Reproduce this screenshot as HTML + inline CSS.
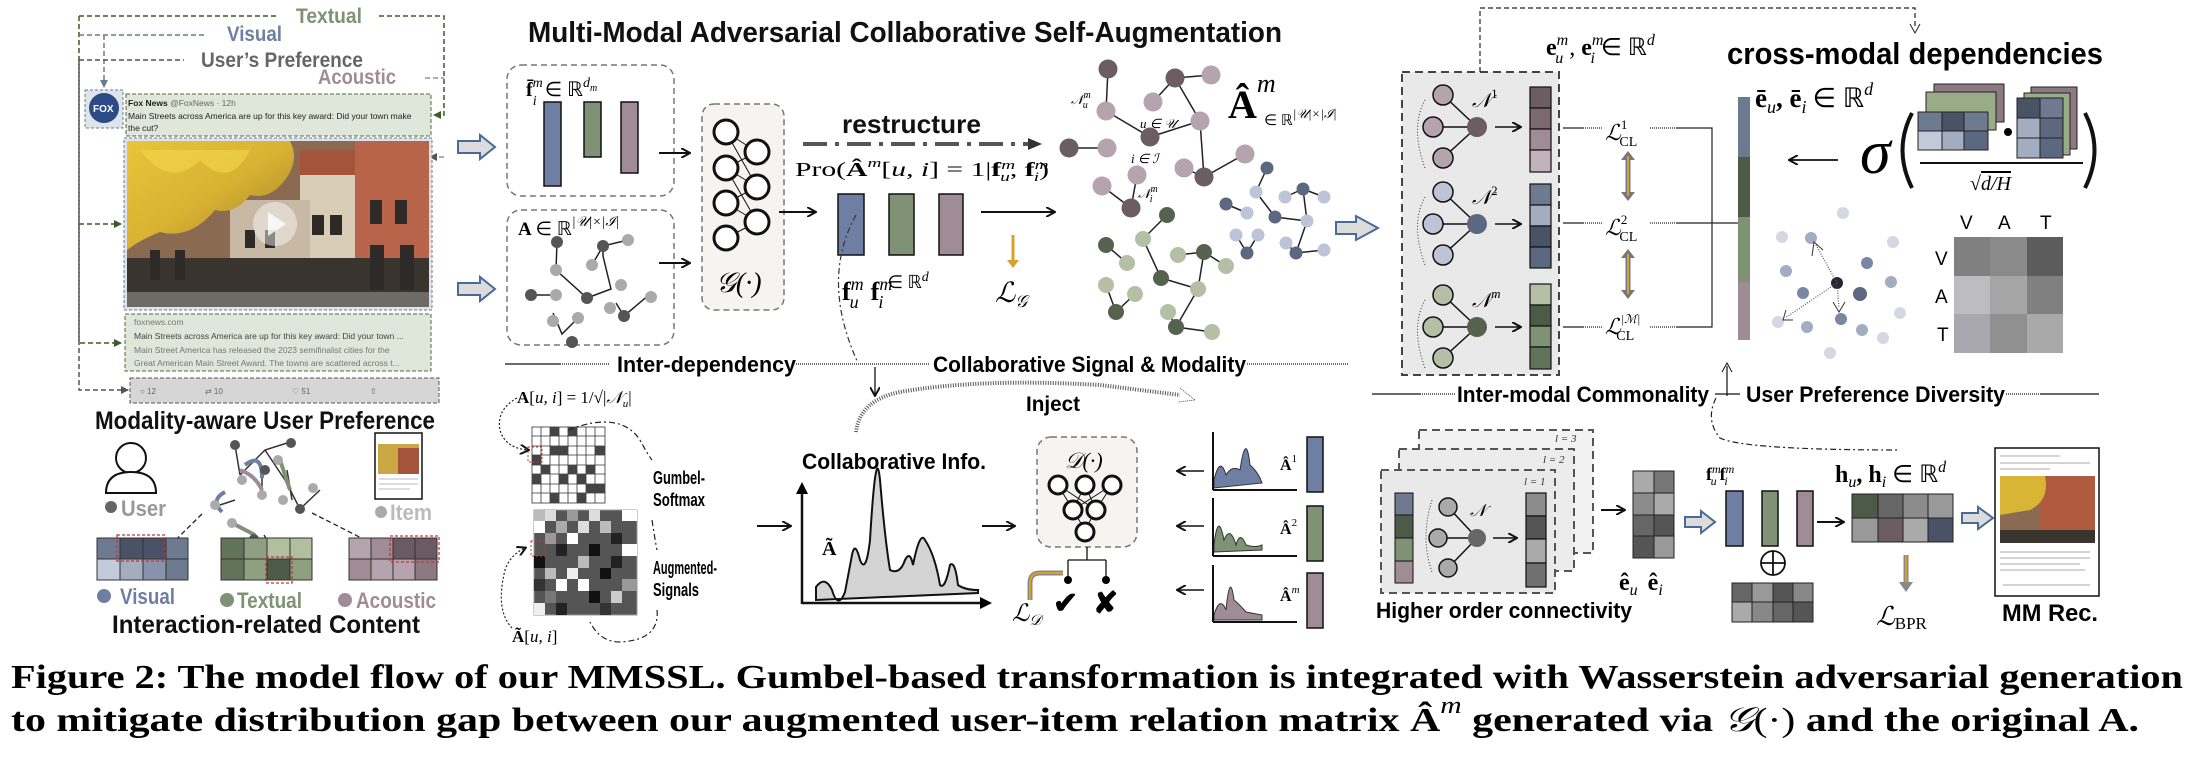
<!DOCTYPE html>
<html><head><meta charset="utf-8"><style>
html,body{margin:0;padding:0;background:#fff;}
svg{display:block;}
.sb{font-family:"Liberation Sans",sans-serif;font-weight:bold;}
.s{font-family:"Liberation Sans",sans-serif;}
.m{font-family:"Liberation Serif",serif;}
.mi{font-family:"Liberation Serif",serif;font-style:italic;}
.mb{font-family:"Liberation Serif",serif;font-weight:bold;}
</style></head><body>
<svg width="2192" height="768" viewBox="0 0 2192 768" xmlns="http://www.w3.org/2000/svg">
<defs>
<marker id="ah" markerWidth="10" markerHeight="10" refX="8" refY="5" orient="auto" markerUnits="userSpaceOnUse"><path d="M0,0 L9,5 L0,10" fill="none" stroke="#111" stroke-width="2"/></marker>
<marker id="ahs" markerWidth="8" markerHeight="8" refX="7" refY="4" orient="auto" markerUnits="userSpaceOnUse"><path d="M0,0 L8,4 L0,8 z" fill="#3d5a2c"/></marker>
<marker id="ahg" markerWidth="8" markerHeight="8" refX="7" refY="4" orient="auto" markerUnits="userSpaceOnUse"><path d="M0,0 L8,4 L0,8 z" fill="#555"/></marker>
<marker id="ahb" markerWidth="8" markerHeight="8" refX="7" refY="4" orient="auto" markerUnits="userSpaceOnUse"><path d="M0,0 L8,4 L0,8 z" fill="#6a7898"/></marker>
<linearGradient id="tree" x1="0" y1="0" x2="1" y2="1"><stop offset="0" stop-color="#e8c53a"/><stop offset="0.5" stop-color="#d9b232"/><stop offset="1" stop-color="#9a7d2a"/></linearGradient>
</defs>

<!-- ============ LEFT PANEL ============ -->
<g font-size="21" class="sb">
<text x="296" y="23" fill="#7f9275" textLength="66" lengthAdjust="spacingAndGlyphs">Textual</text>
<text x="227" y="41" fill="#6e7fa3" textLength="55" lengthAdjust="spacingAndGlyphs">Visual</text>
<text x="201" y="67" fill="#666" textLength="162" lengthAdjust="spacingAndGlyphs">User’s Preference</text>
<text x="318" y="84" fill="#a08c94" textLength="78" lengthAdjust="spacingAndGlyphs">Acoustic</text>
</g>
<g fill="none" stroke-width="1.5" stroke-dasharray="5,3">
<path d="M79,16 H279 M379,16 H444 V115 H434" stroke="#3d5a2c" marker-end="url(#ahs)"/>
<path d="M79,16 V343 H121" stroke="#3d5a2c" marker-end="url(#ahs)"/>
<path d="M79,224 H121" stroke="#3d5a2c" marker-end="url(#ahs)"/>
<path d="M79,35 H207 M104,35 V87" stroke="#6a7898" marker-end="url(#ahb)"/>
<path d="M79,60 H184 M79,60 V390 H128" stroke="#555" marker-end="url(#ahg)"/>
<path d="M425,78 H444 M444,157 H430" stroke="#a08c94" marker-end="url(#ahg)"/>
</g>
<rect x="85" y="90" width="38" height="38" fill="#dfe3ea" stroke="#6a7898" stroke-dasharray="3,2"/>
<circle cx="104" cy="108" r="15" fill="#2c4a86"/><text x="93" y="112" font-size="10" fill="#fff" class="sb">FOX</text>
<rect x="126" y="94" width="305" height="42" fill="#dfe6da" stroke="#4f6b3f" stroke-dasharray="4,2"/>
<text x="128" y="106" font-size="8.5" class="s" fill="#222"><tspan font-weight="bold">Fox News</tspan> <tspan fill="#666">@FoxNews · 12h</tspan></text>
<text x="128" y="119" font-size="8.5" class="s" fill="#222">Main Streets across America are up for this key award: Did your town make</text>
<text x="128" y="131" font-size="8.5" class="s" fill="#222">the cut?</text>
<rect x="124" y="138" width="308" height="172" fill="#dfe3ea" stroke="#6a7898" stroke-dasharray="3,2"/>
<rect x="127" y="141" width="302" height="166" fill="#8a6a50"/>
<rect x="300" y="150" width="129" height="157" fill="#a4543a"/>
<rect x="355" y="141" width="74" height="166" fill="#b8644a"/>
<rect x="300" y="175" width="55" height="132" fill="#d9cdb8"/>
<rect x="230" y="200" width="80" height="107" fill="#c8b9a4"/>
<path d="M127,141 H290 Q300,160 285,180 Q270,200 250,195 Q235,215 215,210 Q190,240 160,232 Q140,240 127,250 Z" fill="url(#tree)"/>
<path d="M140,150 Q170,190 200,160 Q230,190 250,150 Z" fill="#f0d34a" opacity="0.7"/>
<rect x="127" y="258" width="302" height="49" fill="#3a342e"/>
<rect x="127" y="292" width="302" height="15" fill="#6e6a66"/>
<g fill="#2d2a28"><rect x="312" y="215" width="12" height="20"/><rect x="330" y="215" width="12" height="20"/><rect x="370" y="200" width="12" height="24"/><rect x="395" y="200" width="12" height="24"/><rect x="370" y="245" width="14" height="45"/><rect x="400" y="245" width="14" height="45"/><rect x="245" y="230" width="10" height="18"/><rect x="265" y="230" width="10" height="18"/><rect x="150" y="250" width="10" height="30"/><rect x="175" y="250" width="10" height="30"/></g>
<circle cx="275" cy="224" r="22" fill="#fff" opacity="0.45"/><path d="M268,212 L286,224 L268,236 Z" fill="#fff" opacity="0.8"/>
<rect x="125" y="314" width="306" height="57" fill="#dfe6da" stroke="#4f6b3f" stroke-dasharray="4,2"/>
<g font-size="8.5" class="s" fill="#444"><text x="134" y="325" fill="#777">foxnews.com</text><text x="134" y="339">Main Streets across America are up for this key award: Did your town ...</text><text x="134" y="353" fill="#777">Main Street America has released the 2023 semifinalist cities for the</text><text x="134" y="366" fill="#777">Great American Main Street Award. The towns are scattered across t...</text></g>
<rect x="130" y="378" width="309" height="25" fill="#d6d6d6" stroke="#555" stroke-dasharray="4,2"/>
<g font-size="8" class="s" fill="#666"><text x="140" y="394">○ 12</text><text x="205" y="394">⇄ 10</text><text x="292" y="394">♡ 51</text><text x="370" y="394">⇧</text></g>
<text x="95" y="429" font-size="25" class="sb" fill="#111" textLength="340" lengthAdjust="spacingAndGlyphs">Modality-aware User Preference</text>
<circle cx="131" cy="458" r="15" fill="#fff" stroke="#111" stroke-width="2"/>
<path d="M106,493 Q106,472 131,472 Q156,472 156,493 Z" fill="#fff" stroke="#111" stroke-width="2"/>
<circle cx="111" cy="507" r="6" fill="#666"/><text x="121" y="516" font-size="22" class="sb" fill="#999" textLength="45" lengthAdjust="spacingAndGlyphs">User</text>
<g stroke="#333" stroke-width="1.5" fill="none">
<path d="M235,445 L240,475 M240,475 L265,450 L287,443 M265,450 L285,480 M287,470 L292,500 M262,495 L262,475 M285,480 L300,509 L320,490 M232,523 L255,535 M235,500 L220,505"/>
<path d="M245,465 Q262,452 262,478" stroke="#6e7fa3" stroke-width="4"/>
<path d="M240,470 Q255,475 262,490" stroke="#a08c94" stroke-width="4"/>
<path d="M225,492 Q210,500 222,512" stroke="#6e7fa3" stroke-width="4"/>
<path d="M280,460 L290,490" stroke="#7f9275" stroke-width="4"/>
<path d="M232,523 L255,535" stroke="#7f9275" stroke-width="4"/>
</g>
<g fill="#555"><circle cx="235" cy="445" r="5"/><circle cx="291" cy="443" r="5"/><circle cx="265" cy="470" r="5"/><circle cx="300" cy="509" r="5"/><circle cx="254" cy="539" r="5"/></g>
<g fill="#aaa"><circle cx="278" cy="460" r="5"/><circle cx="262" cy="495" r="5"/><circle cx="232" cy="523" r="5"/><circle cx="215" cy="505" r="5"/><circle cx="313" cy="488" r="5"/><circle cx="283" cy="500" r="5"/><circle cx="242" cy="480" r="5"/></g>
<g stroke="#222" stroke-width="1.3" stroke-dasharray="5,3" fill="none"><path d="M202,514 L145,570 M312,513 L395,555 M264,535 L283,565"/></g>
<rect x="375" y="433" width="47" height="66" fill="#fff" stroke="#111" stroke-width="1.5"/>
<rect x="378" y="444" width="41" height="30" fill="#c9a845"/><rect x="398" y="448" width="21" height="26" fill="#a4543a"/>
<g stroke="#bbb" stroke-width="1"><path d="M379,479 H418 M379,484 H418 M379,489 H410"/></g>
<circle cx="381" cy="512" r="6" fill="#aaa"/><text x="390" y="520" font-size="22" class="sb" fill="#bbb" textLength="42" lengthAdjust="spacingAndGlyphs">Item</text>
<g stroke="#333" stroke-width="1">
<rect x="97" y="538" width="23" height="21" fill="#6e7a90"/><rect x="120" y="538" width="23" height="21" fill="#4a5366"/><rect x="143" y="538" width="23" height="21" fill="#4a5366"/><rect x="166" y="538" width="22" height="21" fill="#6e7a90"/>
<rect x="97" y="559" width="23" height="21" fill="#c3cbdb"/><rect x="120" y="559" width="23" height="21" fill="#a4adbf"/><rect x="143" y="559" width="23" height="21" fill="#8793aa"/><rect x="166" y="559" width="22" height="21" fill="#6e7a90"/>
<rect x="221" y="538" width="23" height="21" fill="#62735a"/><rect x="244" y="538" width="23" height="21" fill="#8ea07f"/><rect x="267" y="538" width="23" height="21" fill="#b2bf9f"/><rect x="290" y="538" width="22" height="21" fill="#b2bf9f"/>
<rect x="221" y="559" width="23" height="21" fill="#62735a"/><rect x="244" y="559" width="23" height="21" fill="#8ea07f"/><rect x="267" y="559" width="23" height="21" fill="#4e5a48"/><rect x="290" y="559" width="22" height="21" fill="#8ea07f"/>
<rect x="349" y="538" width="22" height="21" fill="#b5a3ad"/><rect x="371" y="538" width="22" height="21" fill="#a08c94"/><rect x="393" y="538" width="22" height="21" fill="#6b5a62"/><rect x="415" y="538" width="22" height="21" fill="#6b5a62"/>
<rect x="349" y="559" width="22" height="21" fill="#a08c94"/><rect x="371" y="559" width="22" height="21" fill="#b5a3ad"/><rect x="393" y="559" width="22" height="21" fill="#b5a3ad"/><rect x="415" y="559" width="22" height="21" fill="#8d7981"/>
</g>
<g fill="none" stroke="#c33" stroke-width="1.3" stroke-dasharray="3,2"><rect x="117" y="535" width="48" height="26"/><rect x="266" y="557" width="26" height="26"/><rect x="390" y="536" width="49" height="26"/></g>
<circle cx="104" cy="596" r="7" fill="#6e7fa3"/><text x="120" y="604" font-size="22" class="sb" fill="#6e7fa3" textLength="55" lengthAdjust="spacingAndGlyphs">Visual</text>
<circle cx="227" cy="600" r="7" fill="#7f9275"/><text x="237" y="608" font-size="22" class="sb" fill="#7f9275" textLength="65" lengthAdjust="spacingAndGlyphs">Textual</text>
<circle cx="345" cy="600" r="7" fill="#a08c94"/><text x="356" y="608" font-size="22" class="sb" fill="#a08c94" textLength="80" lengthAdjust="spacingAndGlyphs">Acoustic</text>
<text x="112" y="633" font-size="25" class="sb" fill="#111" textLength="308" lengthAdjust="spacingAndGlyphs">Interaction-related Content</text>

<g fill="#dcdcdc" stroke="#4a6a98" stroke-width="2"><path d="M458,141 H480 V135 L495,147 L480,159 V153 H458 Z"/><path d="M458,283 H480 V277 L495,289 L480,301 V295 H458 Z"/></g>

<!-- ============ MIDDLE ============ -->
<text x="528" y="42" font-size="29" class="sb" fill="#111" textLength="754" lengthAdjust="spacingAndGlyphs">Multi-Modal Adversarial Collaborative Self-Augmentation</text>
<rect x="507" y="65" width="167" height="131" rx="14" fill="#fff" stroke="#777" stroke-width="1.5" stroke-dasharray="6,4"/>
<text x="526" y="96" font-size="20" class="mb">f̄<tspan class="mi" font-size="14" font-weight="normal" dy="-9">m</tspan><tspan class="mi" font-size="14" font-weight="normal" dx="-10" dy="18">i</tspan><tspan class="m" font-weight="normal" dy="-9" dx="8">∈ ℝ</tspan><tspan class="mi" font-size="14" font-weight="normal" dy="-9">d</tspan><tspan class="mi" font-size="10" font-weight="normal" dy="4">m</tspan></text>
<g stroke="#111" stroke-width="1.5"><rect x="544" y="102" width="17" height="84" fill="#6e7fa3"/><rect x="584" y="102" width="17" height="55" fill="#7f9275"/><rect x="621" y="102" width="17" height="71" fill="#a08c94"/></g>
<rect x="507" y="210" width="167" height="135" rx="14" fill="#fff" stroke="#777" stroke-width="1.5" stroke-dasharray="6,4"/>
<text x="518" y="235" font-size="19" class="mb">A <tspan class="m" font-weight="normal">∈ ℝ</tspan><tspan class="mi" font-weight="normal" font-size="14" dy="-9">|𝒰|×|ℐ|</tspan></text>
<g stroke="#222" stroke-width="1.5" fill="none"><path d="M557,242 L556,270 L587,298 L611,289 L603,256 L603,246 M592,265 L603,246 L628,240 M531,295 L556,295 M616,303 L624,316 L650,294 M553,313 L562,334 L578,318"/></g>
<g fill="#555"><circle cx="557" cy="242" r="6"/><circle cx="603" cy="246" r="6"/><circle cx="587" cy="298" r="6"/><circle cx="531" cy="295" r="6"/><circle cx="624" cy="316" r="6"/><circle cx="572" cy="342" r="6"/></g>
<g fill="#aaa"><circle cx="628" cy="240" r="6"/><circle cx="556" cy="270" r="6"/><circle cx="592" cy="265" r="6"/><circle cx="621" cy="285" r="6"/><circle cx="556" cy="295" r="6"/><circle cx="610" cy="308" r="6"/><circle cx="651" cy="297" r="6"/><circle cx="578" cy="318" r="6"/><circle cx="553" cy="321" r="6"/></g>
<g stroke="#111" stroke-width="2" fill="none"><path d="M659,153 H689" marker-end="url(#ah)"/><path d="M659,263 H689" marker-end="url(#ah)"/></g>
<rect x="702" y="104" width="82" height="206" rx="12" fill="#f6f4f1" stroke="#777" stroke-width="1.5" stroke-dasharray="6,4"/>
<g stroke="#111" stroke-width="1"><path d="M726,132 L757,152 M726,132 L757,187 M726,168 L757,152 M726,168 L757,187 M726,168 L757,222 M726,203 L757,187 M726,203 L757,222 M726,238 L757,222"/></g>
<g fill="#fff" stroke="#111" stroke-width="3"><circle cx="726" cy="132" r="12"/><circle cx="726" cy="168" r="12"/><circle cx="726" cy="203" r="12"/><circle cx="726" cy="238" r="12"/><circle cx="757" cy="152" r="12"/><circle cx="757" cy="187" r="12"/><circle cx="757" cy="222" r="12"/></g>
<text x="716" y="292" font-size="28" class="mi">𝒢(·)</text>
<path d="M779,212 H815" stroke="#111" stroke-width="2" marker-end="url(#ah)"/>
<text x="842" y="133" font-size="26" class="sb" fill="#111" textLength="139" lengthAdjust="spacingAndGlyphs">restructure</text>
<path d="M803,144 H1035" stroke="#555" stroke-width="4" stroke-dasharray="24,8,4,8"/><path d="M1028,138 L1042,144 L1028,150 Z" fill="#333"/>
<text x="795" y="176" font-size="20" class="m" textLength="254" lengthAdjust="spacingAndGlyphs">Pro(<tspan class="mb">Â</tspan><tspan class="mi" font-size="13" dy="-9">m</tspan><tspan dy="9">[</tspan><tspan class="mi">u, i</tspan>] = 1|<tspan class="mb">f</tspan><tspan class="mi" font-size="13" dy="-7">m</tspan><tspan class="mi" font-size="13" dx="-10" dy="12">u</tspan><tspan dy="-5">, </tspan><tspan class="mb">f</tspan><tspan class="mi" font-size="13" dy="-7">m</tspan><tspan class="mi" font-size="13" dx="-10" dy="12">i</tspan><tspan dy="-5">)</tspan></text>
<g stroke="#111" stroke-width="1.5"><rect x="838" y="194" width="26" height="61" fill="#6e7fa3"/><rect x="889" y="194" width="25" height="61" fill="#7f9275"/><rect x="939" y="194" width="24" height="61" fill="#a08c94"/></g>
<text x="842" y="300" font-size="26" class="mb">f<tspan class="mi" font-weight="normal" font-size="18" dy="-10">m</tspan><tspan class="mi" font-weight="normal" font-size="18" dx="-14" dy="18">u</tspan><tspan dx="12" dy="-8">f</tspan><tspan class="mi" font-weight="normal" font-size="18" dy="-10">m</tspan><tspan class="mi" font-weight="normal" font-size="18" dx="-14" dy="18">i</tspan><tspan class="m" font-weight="normal" font-size="18" dx="4" dy="-20">∈ ℝ</tspan><tspan class="mi" font-weight="normal" font-size="14" dy="-7">d</tspan></text>
<path d="M1013,235 V263" stroke="#d9a030" stroke-width="3"/><path d="M1007,260 L1013,268 L1019,260" fill="#d9a030"/>
<text x="995" y="302" font-size="28" class="mi">ℒ<tspan font-size="17" dy="5">𝒢</tspan></text>
<path d="M981,212 H1054" stroke="#111" stroke-width="2" marker-end="url(#ah)"/>
<path d="M856,215 Q820,280 858,363" fill="none" stroke="#333" stroke-width="1.2" stroke-dasharray="6,3,2,3"/>

<g stroke="#222" stroke-width="1.5" fill="none">
<path d="M1108,69 L1106,111 L1150,137 L1200,121 M1175,78 L1153,102 M1175,78 L1211,75 M1175,78 L1200,121 L1204,177 L1245,154 M1184,168 L1204,177 M1069,148 L1107,148 M1137,175 L1131,208 M1102,186 L1131,208"/>
<path d="M1267,168 L1256,192 L1275,217 L1307,221 M1226,204 L1247,213 M1303,189 L1285,197 M1303,189 L1324,197 M1303,189 L1307,221 L1296,253 L1324,250 M1286,243 L1296,253 M1236,235 L1247,253 M1258,235 L1247,253"/>
<path d="M1167,215 L1143,239 L1161,278 L1198,289 M1106,245 L1127,263 M1178,255 L1204,252 L1226,266 M1204,252 L1198,289 L1176,327 L1212,332 M1168,312 L1176,327 M1106,285 L1116,312 L1135,294"/>
</g>
<g fill="#6b5d62"><circle cx="1108" cy="69" r="9.5"/><circle cx="1175" cy="78" r="9.5"/><circle cx="1150" cy="137" r="9.5"/><circle cx="1069" cy="148" r="9.5"/><circle cx="1204" cy="177" r="9.5"/><circle cx="1131" cy="208" r="9.5"/></g>
<g fill="#b5a3ad"><circle cx="1211" cy="75" r="9.5"/><circle cx="1106" cy="111" r="9.5"/><circle cx="1153" cy="102" r="9.5"/><circle cx="1200" cy="121" r="9.5"/><circle cx="1107" cy="148" r="9.5"/><circle cx="1184" cy="168" r="9.5"/><circle cx="1245" cy="154" r="9.5"/><circle cx="1137" cy="175" r="9.5"/><circle cx="1102" cy="186" r="9.5"/></g>
<g fill="#5c6880"><circle cx="1267" cy="168" r="6.5"/><circle cx="1226" cy="204" r="6.5"/><circle cx="1275" cy="217" r="6.5"/><circle cx="1303" cy="189" r="6.5"/><circle cx="1247" cy="253" r="6.5"/><circle cx="1296" cy="253" r="6.5"/></g>
<g fill="#bcc4d6"><circle cx="1256" cy="192" r="6.5"/><circle cx="1247" cy="213" r="6.5"/><circle cx="1285" cy="197" r="6.5"/><circle cx="1324" cy="197" r="6.5"/><circle cx="1307" cy="221" r="6.5"/><circle cx="1236" cy="235" r="6.5"/><circle cx="1258" cy="235" r="6.5"/><circle cx="1286" cy="243" r="6.5"/><circle cx="1324" cy="250" r="6.5"/></g>
<g fill="#56624f"><circle cx="1167" cy="215" r="8"/><circle cx="1106" cy="245" r="8"/><circle cx="1204" cy="252" r="8"/><circle cx="1161" cy="278" r="8"/><circle cx="1116" cy="312" r="8"/><circle cx="1176" cy="327" r="8"/></g>
<g fill="#b5bfa6"><circle cx="1143" cy="239" r="8"/><circle cx="1127" cy="263" r="8"/><circle cx="1178" cy="255" r="8"/><circle cx="1226" cy="266" r="8"/><circle cx="1106" cy="285" r="8"/><circle cx="1135" cy="294" r="8"/><circle cx="1198" cy="289" r="8"/><circle cx="1168" cy="312" r="8"/><circle cx="1212" cy="332" r="8"/></g>
<g font-size="13" class="mi"><text x="1071" y="104">𝒩<tspan font-size="10" dy="-6">m</tspan><tspan font-size="10" dx="-8" dy="10">u</tspan></text><text x="1140" y="128">u ∈ 𝒰</text><text x="1131" y="163">i ∈ ℐ</text><text x="1138" y="198">𝒩<tspan font-size="10" dy="-6">m</tspan><tspan font-size="10" dx="-8" dy="10">i</tspan></text></g>
<text x="1228" y="118" font-size="40" class="mb">Â<tspan class="mi" font-weight="normal" font-size="26" dy="-26">m</tspan></text>
<text x="1264" y="125" font-size="15" class="m">∈ ℝ<tspan class="mi" font-size="13" dy="-7">|𝒰|×|ℐ|</tspan></text>

<g stroke="#111" stroke-width="1.2"><path d="M505,364 H560"/><path d="M560,364 H610 M796,364 H930 M1247,364 H1349" stroke-dasharray="1,1"/></g>
<text x="617" y="372" font-size="22" class="sb" textLength="179" lengthAdjust="spacingAndGlyphs">Inter-dependency</text>
<text x="933" y="372" font-size="22" class="sb" textLength="313" lengthAdjust="spacingAndGlyphs">Collaborative Signal &amp; Modality</text>
<path d="M875,367 V395" stroke="#111" stroke-width="1.3" marker-end="url(#ah)"/>

<text x="517" y="403" font-size="17" class="m"><tspan class="mb">A</tspan>[<tspan class="mi">u, i</tspan>] = 1/√|<tspan class="mi">𝒩<tspan font-size="11" dy="4">u</tspan></tspan><tspan dy="-4">|</tspan></text>
<path d="M517,398 Q496,410 500,430 Q505,448 528,450" fill="none" stroke="#222" stroke-width="1.2" stroke-dasharray="2,2" marker-end="url(#ah)"/>
<g stroke="#333" stroke-width="0.8">
<rect x="532" y="427" width="73" height="76" fill="#fff"/>
<path d="M541,427 V503 M550,427 V503 M559,427 V503 M568,427 V503 M577,427 V503 M586,427 V503 M595,427 V503 M532,436 H605 M532,446 H605 M532,455 H605 M532,465 H605 M532,474 H605 M532,484 H605 M532,493 H605"/>
</g>
<g fill="#444"><rect x="550" y="427" width="9" height="9"/><rect x="568" y="427" width="9" height="9"/><rect x="550" y="446" width="9" height="9"/><rect x="559" y="446" width="9" height="9"/><rect x="595" y="446" width="10" height="9"/><rect x="532" y="455" width="9" height="10"/><rect x="541" y="465" width="9" height="9"/><rect x="568" y="465" width="9" height="9"/><rect x="532" y="474" width="9" height="10"/><rect x="559" y="474" width="9" height="10"/><rect x="577" y="474" width="9" height="10"/><rect x="586" y="484" width="9" height="9"/><rect x="595" y="484" width="10" height="9"/><rect x="550" y="493" width="9" height="10"/><rect x="577" y="493" width="9" height="10"/><rect x="586" y="465" width="9" height="9"/></g>
<rect x="528" y="447" width="14" height="15" fill="none" stroke="#c33" stroke-dasharray="2,2"/>
<g>
<rect x="534" y="510" width="103" height="105" fill="#555" stroke="#999"/>
<g fill="#ddd"><rect x="534" y="510" width="11" height="11" fill="#bbb"/><rect x="545" y="510" width="11" height="11"/><rect x="567" y="510" width="11" height="11" fill="#999"/><rect x="589" y="510" width="11" height="11"/><rect x="622" y="510" width="15" height="11" fill="#fff"/><rect x="534" y="521" width="11" height="12" fill="#fff"/><rect x="556" y="521" width="11" height="12" fill="#aaa"/><rect x="578" y="521" width="11" height="12"/><rect x="600" y="521" width="11" height="12" fill="#bbb"/><rect x="545" y="533" width="11" height="11" fill="#999"/><rect x="567" y="533" width="11" height="11" fill="#fff"/><rect x="611" y="533" width="11" height="11" fill="#222"/><rect x="556" y="544" width="11" height="12" fill="#222"/><rect x="589" y="544" width="11" height="12" fill="#111"/><rect x="622" y="544" width="15" height="12" fill="#fff"/><rect x="534" y="556" width="11" height="12" fill="#111"/><rect x="578" y="556" width="11" height="12" fill="#bbb"/><rect x="611" y="556" width="11" height="12" fill="#222"/><rect x="545" y="568" width="11" height="11" fill="#bbb"/><rect x="567" y="568" width="11" height="11" fill="#eee"/><rect x="600" y="568" width="11" height="11" fill="#111"/><rect x="534" y="579" width="11" height="12" fill="#333"/><rect x="556" y="579" width="11" height="12" fill="#fff"/><rect x="578" y="579" width="11" height="12" fill="#fff"/><rect x="622" y="579" width="15" height="12" fill="#999"/><rect x="545" y="591" width="11" height="12" fill="#777"/><rect x="589" y="591" width="11" height="12" fill="#111"/><rect x="611" y="591" width="11" height="12" fill="#ccc"/><rect x="534" y="603" width="11" height="12" fill="#eee"/><rect x="556" y="603" width="11" height="12" fill="#222"/><rect x="600" y="603" width="11" height="12" fill="#333"/></g>
</g>
<rect x="531" y="541" width="14" height="15" fill="none" stroke="#c33" stroke-dasharray="2,2"/>
<path d="M568,430 Q620,410 640,440 Q648,455 652,460" fill="none" stroke="#222" stroke-width="1.2" stroke-dasharray="6,3,2,3"/>
<path d="M652,520 Q655,540 657,550 M657,610 Q660,640 620,642 Q600,642 590,622" fill="none" stroke="#222" stroke-width="1.2" stroke-dasharray="6,3,2,3"/>
<path d="M512,628 Q495,610 505,570 Q510,555 525,548" fill="none" stroke="#222" stroke-width="1.2" stroke-dasharray="2,2" marker-end="url(#ah)"/>
<g font-size="18" class="sb"><text x="653" y="484" textLength="52" lengthAdjust="spacingAndGlyphs">Gumbel-</text><text x="653" y="506" textLength="52" lengthAdjust="spacingAndGlyphs">Softmax</text><text x="653" y="574" textLength="64" lengthAdjust="spacingAndGlyphs">Augmented-</text><text x="653" y="596" textLength="46" lengthAdjust="spacingAndGlyphs">Signals</text></g>
<text x="512" y="642" font-size="17" class="m"><tspan class="mb">Ã</tspan>[<tspan class="mi">u, i</tspan>]</text>
<path d="M757,526 H790" stroke="#111" stroke-width="2" marker-end="url(#ah)"/>
<text x="802" y="469" font-size="22" class="sb" textLength="184" lengthAdjust="spacingAndGlyphs">Collaborative Info.</text>
<path d="M816,587 Q825,575 832,590 Q838,610 845,592 L852,555 Q855,540 860,560 Q866,575 870,540 Q876,440 880,480 Q885,540 890,570 Q900,575 905,560 Q910,550 913,565 Q920,530 925,540 Q935,555 940,585 Q945,590 950,565 Q955,560 958,585 Q965,590 978,590 L978,593 L816,600 Z" fill="#d4d4d4" stroke="#111" stroke-width="2"/>
<path d="M802,604 V490" stroke="#111" stroke-width="2.5"/><path d="M796,494 L802,482 L808,494 Z"/>
<path d="M802,603 H983" stroke="#111" stroke-width="2.5"/><path d="M980,597 L992,603 L980,609 Z"/>
<text x="822" y="555" font-size="20" class="mb">Ã</text>
<path d="M982,526 H1014" stroke="#111" stroke-width="2" marker-end="url(#ah)"/>
<text x="1026" y="411" font-size="21" class="sb" textLength="54" lengthAdjust="spacingAndGlyphs">Inject</text>
<path d="M856,432 Q860,400 900,392 Q980,378 1100,385 L1180,395" fill="none" stroke="#555" stroke-width="4" stroke-dasharray="1,1.5"/>
<path d="M1180,388 L1195,400 L1178,402" fill="none" stroke="#555" stroke-width="1" stroke-dasharray="1,1"/>
<rect x="1037" y="437" width="100" height="110" rx="14" fill="#f6f4f1" stroke="#777" stroke-width="1.5" stroke-dasharray="6,4"/>
<text x="1065" y="468" font-size="22" class="mi">𝒟(·)</text>
<g stroke="#111" stroke-width="1"><path d="M1058,485 L1073,510 M1058,485 L1096,510 M1085,485 L1073,510 M1085,485 L1096,510 M1112,485 L1073,510 M1112,485 L1096,510 M1073,510 L1085,530 M1096,510 L1085,530"/></g>
<g fill="#fff" stroke="#111" stroke-width="3"><circle cx="1058" cy="485" r="9"/><circle cx="1085" cy="485" r="9"/><circle cx="1112" cy="485" r="9"/><circle cx="1073" cy="510" r="9"/><circle cx="1096" cy="510" r="9"/><circle cx="1085" cy="532" r="9"/></g>
<path d="M1087,547 V560 M1068,560 H1106 M1068,560 V578 M1106,560 V578" stroke="#111" stroke-width="1.3" fill="none"/>
<circle cx="1068" cy="580" r="4"/><circle cx="1106" cy="580" r="4"/>
<path d="M1063,573 H1040 Q1030,573 1030,583 V600" fill="none" stroke="#888" stroke-width="5"/><path d="M1063,573 H1040 Q1030,573 1030,583 V600" fill="none" stroke="#d9a030" stroke-width="2"/>
<text x="1012" y="621" font-size="24" class="mi">ℒ<tspan font-size="15" dy="4">𝒟</tspan></text>
<text x="1053" y="613" font-size="30" class="sb">✔</text><text x="1093" y="613" font-size="30" class="sb">✘</text>
<g stroke="#111" stroke-width="1.5" fill="none">
<path d="M1204,471 H1178" marker-end="url(#ah)"/>
<path d="M1204,526 H1178" marker-end="url(#ah)"/>
<path d="M1204,590 H1178" marker-end="url(#ah)"/>
</g>
<g>
<path d="M1214,480 Q1220,455 1226,475 Q1232,465 1240,470 Q1246,430 1250,465 Q1256,470 1260,478 L1262,483 L1214,488Z" fill="#6e7fa3" stroke="#333"/>
<path d="M1214,545 Q1218,510 1224,540 Q1230,525 1236,545 Q1240,530 1246,545 Q1256,548 1262,545 L1262,550 L1214,552Z" fill="#7f9275" stroke="#333"/>
<path d="M1214,615 Q1220,595 1226,610 Q1230,570 1234,600 Q1240,605 1246,612 L1262,615 L1262,620 L1214,620Z" fill="#a08c94" stroke="#333"/>
<g stroke="#111" stroke-width="2"><path d="M1213,490 V432 M1213,490 H1297 M1213,556 V498 M1213,556 H1297 M1213,622 V565 M1213,622 H1297"/></g>
<g font-size="16" class="mb"><text x="1280" y="470">Â<tspan class="m" font-weight="normal" font-size="11" dy="-8">1</tspan></text><text x="1280" y="534">Â<tspan class="m" font-weight="normal" font-size="11" dy="-8">2</tspan></text><text x="1280" y="601">Â<tspan class="mi" font-weight="normal" font-size="11" dy="-8">m</tspan></text></g>
<g stroke="#111" stroke-width="1.5"><rect x="1307" y="437" width="16" height="55" fill="#6e7fa3"/><rect x="1307" y="506" width="16" height="55" fill="#7f9275"/><rect x="1307" y="573" width="16" height="55" fill="#a08c94"/></g>
</g>

<!-- ============ RIGHT ============ -->
<path d="M1336,222 H1356 V216 L1378,228 L1356,240 V234 H1336 Z" fill="#dcdcdc" stroke="#4a6a98" stroke-width="2"/>
<rect x="1402" y="72" width="157" height="303" fill="#e9e9e9" stroke="#444" stroke-width="2" stroke-dasharray="8,5"/>
<path d="M1480,72 V8 H1915 V28" fill="none" stroke="#222" stroke-width="1.2" stroke-dasharray="5,3"/><path d="M1910,24 L1915,33 L1920,24" fill="none" stroke="#222"/>
<g>
<g stroke="#111" stroke-width="1.5"><path d="M1443,95 L1477,127 M1433,127 L1477,127 M1443,158 L1477,127"/><path d="M1495,127 H1520" marker-end="url(#ah)"/></g>
<path d="M1425,100 Q1410,127 1425,168" fill="none" stroke="#333" stroke-dasharray="1,2"/>
<g stroke="#111" stroke-width="1.5" fill="#b5a3ad"><circle cx="1443" cy="95" r="10"/><circle cx="1433" cy="127" r="10"/><circle cx="1443" cy="158" r="10"/></g><circle cx="1477" cy="127" r="10" fill="#6b5d62"/>
<g stroke="#111" stroke-width="1.2"><rect x="1530" y="87" width="21" height="21" fill="#6b5d62"/><rect x="1530" y="108" width="21" height="21" fill="#7a6a70"/><rect x="1530" y="129" width="21" height="21" fill="#a08c94"/><rect x="1530" y="150" width="21" height="22" fill="#c4b2ba"/></g>
<text x="1472" y="107" font-size="20" class="mi">𝒩<tspan class="m" font-style="normal" font-size="13" dy="-9">1</tspan></text>
<g stroke="#111" stroke-width="1.5"><path d="M1443,192 L1477,224 M1433,224 L1477,224 M1443,255 L1477,224"/><path d="M1495,224 H1520" marker-end="url(#ah)"/></g>
<path d="M1425,197 Q1410,224 1425,265" fill="none" stroke="#333" stroke-dasharray="1,2"/>
<g stroke="#111" stroke-width="1.5" fill="#bcc4d6"><circle cx="1443" cy="192" r="10"/><circle cx="1433" cy="224" r="10"/><circle cx="1443" cy="255" r="10"/></g><circle cx="1477" cy="224" r="10" fill="#5c6880"/>
<g stroke="#111" stroke-width="1.2"><rect x="1530" y="184" width="21" height="21" fill="#6e7a90"/><rect x="1530" y="205" width="21" height="21" fill="#a4adbf"/><rect x="1530" y="226" width="21" height="21" fill="#4a5366"/><rect x="1530" y="247" width="21" height="21" fill="#5c6880"/></g>
<text x="1472" y="204" font-size="20" class="mi">𝒩<tspan class="m" font-style="normal" font-size="13" dy="-9">2</tspan></text>
<g stroke="#111" stroke-width="1.5"><path d="M1443,295 L1477,327 M1433,327 L1477,327 M1443,358 L1477,327"/><path d="M1495,327 H1520" marker-end="url(#ah)"/></g>
<path d="M1425,300 Q1410,327 1425,368" fill="none" stroke="#333" stroke-dasharray="1,2"/>
<g stroke="#111" stroke-width="1.5" fill="#b5bfa6"><circle cx="1443" cy="295" r="10"/><circle cx="1433" cy="327" r="10"/><circle cx="1443" cy="358" r="10"/></g><circle cx="1477" cy="327" r="10" fill="#56624f"/>
<g stroke="#111" stroke-width="1.2"><rect x="1530" y="284" width="21" height="21" fill="#b5bfa6"/><rect x="1530" y="305" width="21" height="21" fill="#4e5a48"/><rect x="1530" y="326" width="21" height="21" fill="#7f9275"/><rect x="1530" y="347" width="21" height="22" fill="#62735a"/></g>
<text x="1472" y="307" font-size="20" class="mi">𝒩<tspan font-size="13" dy="-9">m</tspan></text>
</g>
<text x="1546" y="55" font-size="24" class="mb">e<tspan class="mi" font-weight="normal" font-size="16" dy="-10">m</tspan><tspan class="mi" font-weight="normal" font-size="16" dx="-13" dy="18">u</tspan><tspan class="m" font-weight="normal" dy="-8"> , </tspan>e<tspan class="mi" font-weight="normal" font-size="16" dy="-10">m</tspan><tspan class="mi" font-weight="normal" font-size="16" dx="-13" dy="18">i</tspan><tspan class="m" font-weight="normal" dx="6" dy="-8">∈ ℝ</tspan><tspan class="mi" font-weight="normal" font-size="16" dy="-10">d</tspan></text>
<g stroke="#222" stroke-width="1.2" fill="none"><path d="M1563,128 H1583 M1563,223 H1583 M1563,327 H1583"/><path d="M1583,128 H1603 M1583,223 H1603 M1583,327 H1603 M1650,128 H1676 M1650,223 H1676 M1650,327 H1676" stroke-dasharray="1,1"/><path d="M1676,128 H1712 V327 H1676 M1676,223 H1738"/></g>
<g font-size="22" class="mi"><text x="1605" y="140">ℒ<tspan class="m" font-style="normal" font-size="13" dy="-11">1</tspan><tspan class="m" font-style="normal" font-size="14" dx="-8" dy="17">CL</tspan></text><text x="1605" y="235">ℒ<tspan class="m" font-style="normal" font-size="13" dy="-11">2</tspan><tspan class="m" font-style="normal" font-size="14" dx="-8" dy="17">CL</tspan></text><text x="1605" y="334">ℒ<tspan font-size="12" dy="-11">|ℳ|</tspan><tspan class="m" font-style="normal" font-size="14" dx="-24" dy="17">CL</tspan></text></g>
<g><path d="M1628,154 V198" stroke="#777" stroke-width="5"/><path d="M1621,160 L1628,151 L1635,160 Z M1621,192 L1628,201 L1635,192 Z" fill="#777"/><path d="M1628,156 V196" stroke="#f0b030" stroke-width="1.5"/>
<path d="M1628,252 V296" stroke="#777" stroke-width="5"/><path d="M1621,258 L1628,249 L1635,258 Z M1621,290 L1628,299 L1635,290 Z" fill="#777"/><path d="M1628,254 V294" stroke="#f0b030" stroke-width="1.5"/></g>
<rect x="1738" y="97" width="12" height="60" fill="#6e7a90"/><rect x="1738" y="157" width="12" height="60" fill="#4e5a48"/><rect x="1738" y="217" width="12" height="65" fill="#7f9275"/><rect x="1738" y="282" width="12" height="58" fill="#a08c94"/>
<text x="1727" y="64" font-size="31" class="sb" textLength="376" lengthAdjust="spacingAndGlyphs">cross-modal dependencies</text>
<text x="1755" y="107" font-size="27" class="mb">ē<tspan class="mi" font-weight="normal" font-size="18" dy="6">u</tspan><tspan dy="-6">, ē</tspan><tspan class="mi" font-weight="normal" font-size="18" dy="6">i</tspan><tspan class="m" font-weight="normal" dx="6" dy="-6">∈ ℝ</tspan><tspan class="mi" font-weight="normal" font-size="18" dy="-12">d</tspan></text>
<path d="M1838,160 H1790" stroke="#111" stroke-width="1.8" marker-end="url(#ah)"/>
<text x="1860" y="173" font-size="62" class="mi">σ</text>
<path d="M1912,113 Q1893,150 1912,188" fill="none" stroke="#111" stroke-width="4"/>
<path d="M2085,113 Q2104,150 2085,188" fill="none" stroke="#111" stroke-width="4"/>
<g stroke="#222" stroke-width="1">
<rect x="1934" y="84" width="70" height="38" fill="#8d7981"/><rect x="1926" y="92" width="70" height="38" fill="#9aab88"/>
<rect x="1918" y="112" width="24" height="19" fill="#6e7a90"/><rect x="1942" y="112" width="22" height="19" fill="#4a5366"/><rect x="1964" y="112" width="24" height="19" fill="#6e7a90"/>
<rect x="1918" y="131" width="24" height="19" fill="#c3cbdb"/><rect x="1942" y="131" width="22" height="19" fill="#a4adbf"/><rect x="1964" y="131" width="24" height="19" fill="#5c6880"/>
<rect x="2031" y="87" width="46" height="62" fill="#8d7981"/><rect x="2024" y="93" width="46" height="62" fill="#9aab88"/>
<rect x="2017" y="98" width="23" height="20" fill="#4a5366"/><rect x="2040" y="98" width="23" height="20" fill="#6e7a90"/>
<rect x="2017" y="118" width="23" height="20" fill="#a4adbf"/><rect x="2040" y="118" width="23" height="20" fill="#5c6880"/>
<rect x="2017" y="138" width="23" height="20" fill="#a4adbf"/><rect x="2040" y="138" width="23" height="20" fill="#5c6880"/>
</g>
<circle cx="2008" cy="132" r="4"/>
<path d="M1920,163 H2083" stroke="#111" stroke-width="2"/>
<text x="1970" y="190" font-size="20" class="m">√<tspan class="mi" text-decoration="overline">d/H</tspan></text>
<g><circle cx="1843" cy="213" r="6" fill="#d3d8e3"/><circle cx="1782" cy="237" r="6" fill="#d3d8e3"/><circle cx="1811" cy="238" r="6" fill="#a4adbf"/><circle cx="1893" cy="242" r="6" fill="#d3d8e3"/><circle cx="1786" cy="271" r="6" fill="#a4adbf"/><circle cx="1867" cy="263" r="6" fill="#7a87a3"/><circle cx="1891" cy="282" r="6" fill="#a4adbf"/><circle cx="1803" cy="293" r="6" fill="#7a87a3"/><circle cx="1860" cy="294" r="7" fill="#5c6880"/><circle cx="1900" cy="313" r="6" fill="#d3d8e3"/><circle cx="1778" cy="322" r="6" fill="#d3d8e3"/><circle cx="1841" cy="319" r="6" fill="#7a87a3"/><circle cx="1807" cy="327" r="6" fill="#a4adbf"/><circle cx="1862" cy="330" r="6" fill="#a4adbf"/><circle cx="1883" cy="338" r="6" fill="#d3d8e3"/><circle cx="1830" cy="353" r="6" fill="#d3d8e3"/><circle cx="1837" cy="283" r="6" fill="#222833"/></g>
<g stroke="#555" stroke-width="1.2" stroke-dasharray="1,1.5" fill="none"><path d="M1837,283 L1816,245 M1837,283 L1785,318 M1837,283 L1839,308"/></g>
<path d="M1812,256 L1814,242 L1823,250 M1786,310 L1783,320 L1793,320 M1833,302 L1839,312 L1845,302" fill="none" stroke="#333" stroke-width="1"/>
<g font-size="19" class="s"><text x="1960" y="229">V</text><text x="1998" y="229">A</text><text x="2040" y="229">T</text><text x="1935" y="265">V</text><text x="1935" y="303">A</text><text x="1937" y="341">T</text></g>
<rect x="1954" y="237" width="36" height="39" fill="#808080"/><rect x="1990" y="237" width="37" height="39" fill="#8a8a8a"/><rect x="2027" y="237" width="36" height="39" fill="#5c5c5c"/>
<rect x="1954" y="276" width="36" height="38" fill="#bdbdbf"/><rect x="1990" y="276" width="37" height="38" fill="#a5a5a5"/><rect x="2027" y="276" width="36" height="38" fill="#808080"/>
<rect x="1954" y="314" width="36" height="39" fill="#a8a8ae"/><rect x="1990" y="314" width="37" height="39" fill="#909090"/><rect x="2027" y="314" width="36" height="39" fill="#a9a9a9"/>
<g stroke="#111" stroke-width="1.2"><path d="M1372,394 H1420 M2040,394 H2099"/><path d="M1420,394 H1455 M2006,394 H2040" stroke-dasharray="1,1"/><path d="M1715,394 H1740"/></g>
<text x="1457" y="402" font-size="22" class="sb" textLength="252" lengthAdjust="spacingAndGlyphs">Inter-modal Commonality</text>
<text x="1746" y="402" font-size="22" class="sb" textLength="259" lengthAdjust="spacingAndGlyphs">User Preference Diversity</text>
<path d="M1727,396 V366" stroke="#111" stroke-width="1.2"/><path d="M1722,372 L1727,363 L1732,372" fill="none" stroke="#111"/>
<path d="M1716,398 Q1705,420 1720,438 Q1745,450 1900,450" fill="none" stroke="#222" stroke-width="1.2" stroke-dasharray="6,3,2,3"/>
<rect x="1419" y="430" width="174" height="123" fill="#f2f2f2" stroke="#555" stroke-width="2" stroke-dasharray="8,5"/>
<rect x="1399" y="449" width="175" height="122" fill="#ececec" stroke="#555" stroke-width="2" stroke-dasharray="8,5"/>
<rect x="1381" y="470" width="174" height="123" fill="#e9e9e9" stroke="#555" stroke-width="2" stroke-dasharray="8,5"/>
<g font-size="11" class="mi" fill="#333"><text x="1555" y="442">l = 3</text><text x="1543" y="463">l = 2</text><text x="1524" y="485">l = 1</text></g>
<g stroke="#111" stroke-width="1"><rect x="1395" y="493" width="18" height="22" fill="#6e7a90"/><rect x="1395" y="515" width="18" height="23" fill="#4e5a48"/><rect x="1395" y="538" width="18" height="23" fill="#7f9275"/><rect x="1395" y="561" width="18" height="22" fill="#a08c94"/></g>
<path d="M1432,500 Q1420,538 1432,572" fill="none" stroke="#333" stroke-dasharray="1,2"/>
<g stroke="#111" stroke-width="1.5"><path d="M1448,507 L1477,538 M1438,538 L1477,538 M1448,568 L1477,538"/><path d="M1493,538 H1516" marker-end="url(#ah)"/></g>
<g stroke="#111" stroke-width="1.5" fill="#aaa"><circle cx="1448" cy="507" r="9"/><circle cx="1438" cy="538" r="9"/><circle cx="1448" cy="568" r="9"/></g><circle cx="1477" cy="538" r="9" fill="#666"/>
<text x="1470" y="516" font-size="17" class="mi">𝒩</text>
<g stroke="#111" stroke-width="1.2"><rect x="1526" y="493" width="20" height="23" fill="#8c8c8c"/><rect x="1526" y="516" width="20" height="23" fill="#555"/><rect x="1526" y="539" width="20" height="24" fill="#aaa"/><rect x="1526" y="563" width="20" height="24" fill="#707070"/></g>
<text x="1376" y="618" font-size="22" class="sb" textLength="256" lengthAdjust="spacingAndGlyphs">Higher order connectivity</text>
<path d="M1601,510 H1624" stroke="#111" stroke-width="2" marker-end="url(#ah)"/>
<g stroke="#222" stroke-width="1"><rect x="1633" y="471" width="21" height="22" fill="#aaa"/><rect x="1654" y="471" width="20" height="22" fill="#777"/><rect x="1633" y="493" width="21" height="22" fill="#8c8c8c"/><rect x="1654" y="493" width="20" height="22" fill="#aaa"/><rect x="1633" y="515" width="21" height="21" fill="#666"/><rect x="1654" y="515" width="20" height="21" fill="#555"/><rect x="1633" y="536" width="21" height="22" fill="#555"/><rect x="1654" y="536" width="20" height="22" fill="#999"/></g>
<text x="1619" y="590" font-size="24" class="mb">ê<tspan class="mi" font-weight="normal" font-size="16" dy="5">u</tspan><tspan dx="10" dy="-5">ê</tspan><tspan class="mi" font-weight="normal" font-size="16" dy="5">i</tspan></text>
<path d="M1685,517 H1701 V511 L1715,522 L1701,533 V527 H1685 Z" fill="#dcdcdc" stroke="#4a6a98" stroke-width="2"/>
<text x="1706" y="480" font-size="18" class="mb">f<tspan class="mi" font-weight="normal" font-size="12" dy="-7">m</tspan><tspan class="mi" font-weight="normal" font-size="12" dx="-10" dy="12">u</tspan><tspan dx="3" dy="-5">f</tspan><tspan class="mi" font-weight="normal" font-size="12" dy="-7">m</tspan><tspan class="mi" font-weight="normal" font-size="12" dx="-10" dy="12">i</tspan></text>
<g stroke="#111" stroke-width="1.5"><rect x="1726" y="491" width="17" height="55" fill="#6e7fa3"/><rect x="1762" y="491" width="16" height="55" fill="#7f9275"/><rect x="1797" y="491" width="16" height="55" fill="#a08c94"/></g>
<circle cx="1773" cy="563" r="12" fill="none" stroke="#111" stroke-width="1.8"/><path d="M1761,563 H1785 M1773,551 V575" stroke="#111" stroke-width="1.8"/>
<g stroke="#222" stroke-width="1"><rect x="1732" y="583" width="20" height="19" fill="#666"/><rect x="1752" y="583" width="21" height="19" fill="#999"/><rect x="1773" y="583" width="20" height="19" fill="#555"/><rect x="1793" y="583" width="20" height="19" fill="#888"/><rect x="1732" y="602" width="20" height="20" fill="#aaa"/><rect x="1752" y="602" width="21" height="20" fill="#888"/><rect x="1773" y="602" width="20" height="20" fill="#666"/><rect x="1793" y="602" width="20" height="20" fill="#555"/></g>
<path d="M1817,522 H1843" stroke="#111" stroke-width="2" marker-end="url(#ah)"/>
<text x="1835" y="482" font-size="24" class="mb">h<tspan class="mi" font-weight="normal" font-size="16" dy="5">u</tspan><tspan dy="-5">, h</tspan><tspan class="mi" font-weight="normal" font-size="16" dy="5">i</tspan><tspan class="m" font-weight="normal" dx="6" dy="-5">∈ ℝ</tspan><tspan class="mi" font-weight="normal" font-size="16" dy="-10">d</tspan></text>
<g stroke="#222" stroke-width="1"><rect x="1852" y="494" width="26" height="24" fill="#4e5a48"/><rect x="1878" y="494" width="25" height="24" fill="#666"/><rect x="1903" y="494" width="25" height="24" fill="#8c8c8c"/><rect x="1928" y="494" width="25" height="24" fill="#999"/><rect x="1852" y="518" width="26" height="24" fill="#999"/><rect x="1878" y="518" width="25" height="24" fill="#6b5d62"/><rect x="1903" y="518" width="25" height="24" fill="#aaa"/><rect x="1928" y="518" width="25" height="24" fill="#4a5366"/></g>
<path d="M1906,555 V584" stroke="#888" stroke-width="5"/><path d="M1906,555 V584" stroke="#d9a030" stroke-width="2"/><path d="M1899,582 L1906,592 L1913,582 Z" fill="#888"/>
<text x="1876" y="625" font-size="26" class="mi">ℒ<tspan class="m" font-style="normal" font-size="17" dy="4">BPR</tspan></text>
<path d="M1962,513 H1978 V507 L1993,518 L1978,529 V523 H1962 Z" fill="#dcdcdc" stroke="#4a6a98" stroke-width="2"/>
<rect x="1995" y="448" width="104" height="148" fill="#fff" stroke="#111" stroke-width="1.5"/>
<rect x="2000" y="476" width="95" height="67" fill="#8a6a50"/><rect x="2040" y="476" width="55" height="67" fill="#b05a40"/><path d="M2000,476 H2045 Q2050,500 2030,510 L2000,515 Z" fill="#d8b535"/><rect x="2000" y="530" width="95" height="13" fill="#3a342e"/>
<g stroke="#bbb" stroke-width="1.2"><path d="M2000,456 H2060 M2000,463 H2090 M2000,469 H2050 M2000,552 H2090 M2000,558 H2090 M2000,564 H2080 M2000,570 H2085 M2003,585 H2090"/></g>
<text x="2002" y="621" font-size="24" class="sb" textLength="96" lengthAdjust="spacingAndGlyphs">MM Rec.</text>

<!-- ============ CAPTION ============ -->
<text x="11" y="688" font-size="34" class="mb" textLength="2172" lengthAdjust="spacingAndGlyphs">Figure 2: The model flow of our MMSSL. Gumbel-based transformation is integrated with Wasserstein adversarial generation</text>
<text x="11" y="731" font-size="34" class="mb" textLength="2128" lengthAdjust="spacingAndGlyphs">to mitigate distribution gap between our augmented user-item relation matrix Â<tspan class="mi" font-weight="normal" font-size="24" dy="-18">m</tspan><tspan dy="18"> generated via </tspan><tspan class="mi" font-weight="normal">𝒢</tspan><tspan font-weight="normal">(·)</tspan> and the original A.</text>
</svg>
</body></html>
